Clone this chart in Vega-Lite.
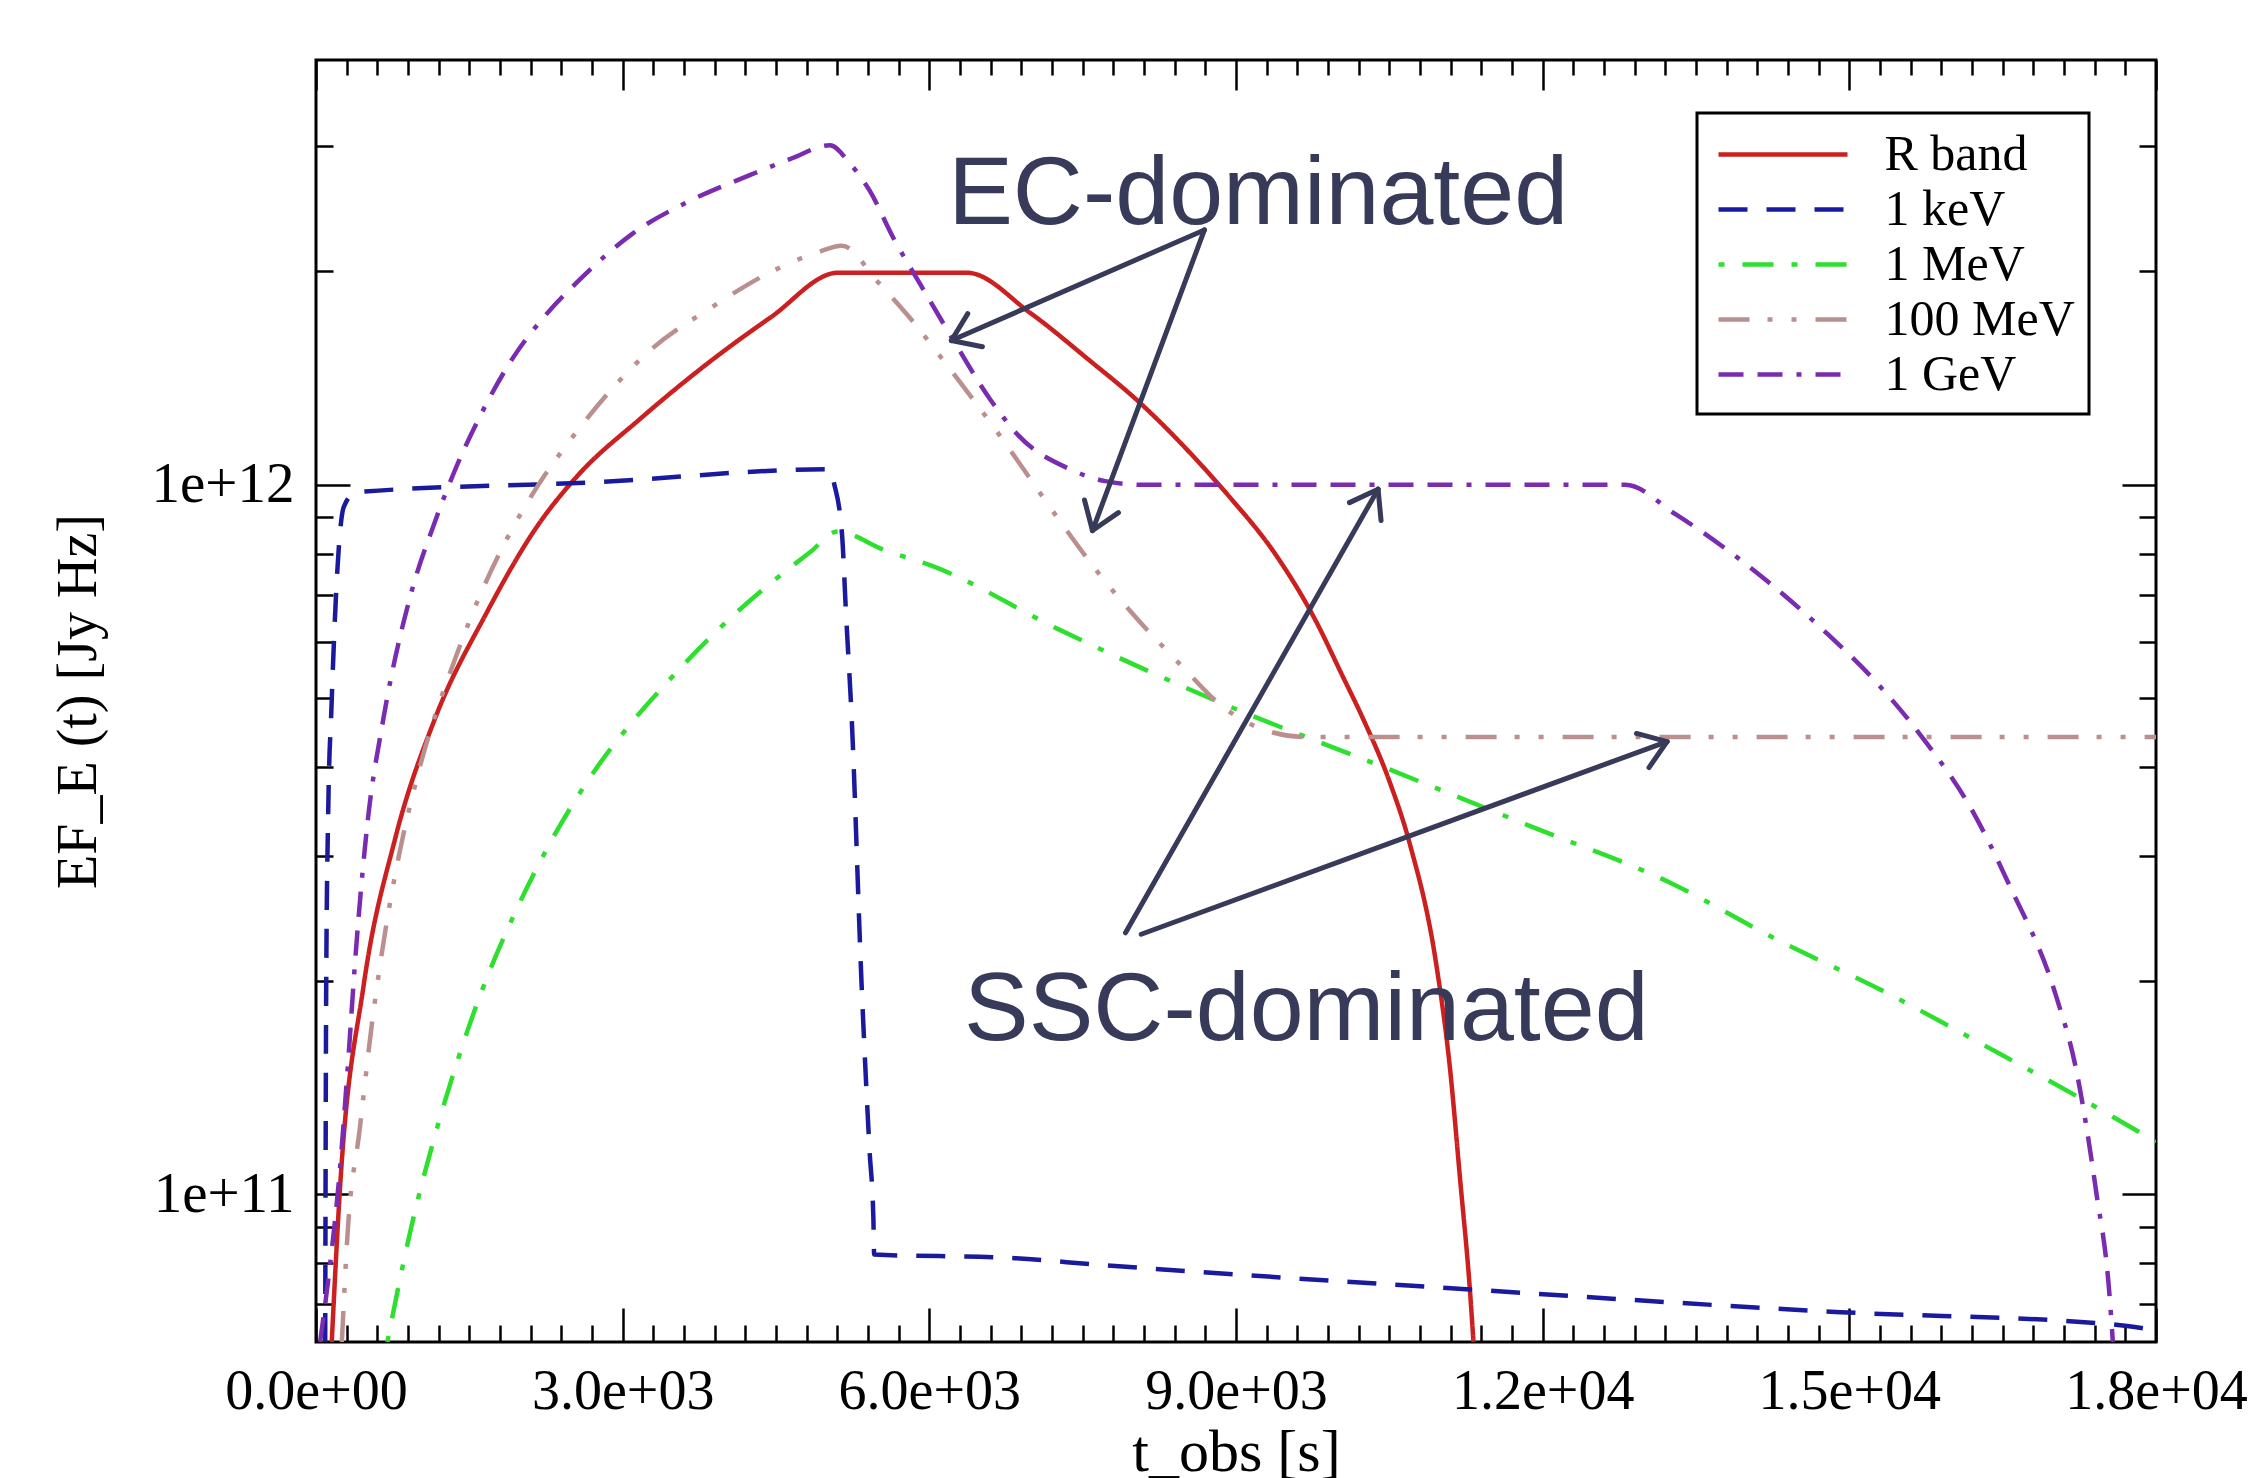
{
  "$schema": "https://vega.github.io/schema/vega-lite/v6.json",
  "width": 1840,
  "height": 1282,
  "autosize": {"type": "none"},
  "padding": {"left": 316, "top": 60, "right": 95, "bottom": 136},
  "background": "white",
  "config": {
    "view": {"stroke": "black", "strokeWidth": 3},
    "axis": {"grid": false, "domain": false, "labelColor": "black", "titleColor": "black", "tickColor": "black"}
  },
  "datasets": {
    "curves": [
      {"band": "R band", "i": 0, "t": 154, "f": 6.19e10},
      {"band": "R band", "i": 1, "t": 233, "f": 1.01e11},
      {"band": "R band", "i": 2, "t": 465, "f": 1.965e11},
      {"band": "R band", "i": 3, "t": 774, "f": 3.17e11},
      {"band": "R band", "i": 4, "t": 1161, "f": 4.67e11},
      {"band": "R band", "i": 5, "t": 1664, "f": 6.58e11},
      {"band": "R band", "i": 6, "t": 2166, "f": 8.75e11},
      {"band": "R band", "i": 7, "t": 2554, "f": 1.028e12},
      {"band": "R band", "i": 8, "t": 3172, "f": 1.239e12},
      {"band": "R band", "i": 9, "t": 3868, "f": 1.497e12},
      {"band": "R band", "i": 10, "t": 4448, "f": 1.722e12},
      {"band": "R band", "i": 11, "t": 5105, "f": 1.99e12},
      {"band": "R band", "i": 12, "t": 6370, "f": 1.99e12},
      {"band": "R band", "i": 13, "t": 6989, "f": 1.746e12},
      {"band": "R band", "i": 14, "t": 7568, "f": 1.497e12},
      {"band": "R band", "i": 15, "t": 8032, "f": 1.316e12},
      {"band": "R band", "i": 16, "t": 8651, "f": 1.07e12},
      {"band": "R band", "i": 17, "t": 8922, "f": 9.67e11},
      {"band": "R band", "i": 18, "t": 9386, "f": 7.98e11},
      {"band": "R band", "i": 19, "t": 9773, "f": 6.46e11},
      {"band": "R band", "i": 20, "t": 10044, "f": 5.37e11},
      {"band": "R band", "i": 21, "t": 10237, "f": 4.70e11},
      {"band": "R band", "i": 22, "t": 10501, "f": 3.82e11},
      {"band": "R band", "i": 23, "t": 10697, "f": 3.13e11},
      {"band": "R band", "i": 24, "t": 10961, "f": 2.10e11},
      {"band": "R band", "i": 25, "t": 11093, "f": 1.506e11},
      {"band": "R band", "i": 26, "t": 11193, "f": 1.047e11},
      {"band": "R band", "i": 27, "t": 11291, "f": 7.24e10},
      {"band": "R band", "i": 28, "t": 11323, "f": 6.19e10},

      {"band": "1 keV", "i": 0, "t": 90, "f": 6.19e10},
      {"band": "1 keV", "i": 1, "t": 100, "f": 2.0e11},
      {"band": "1 keV", "i": 2, "t": 120, "f": 3.5e11},
      {"band": "1 keV", "i": 3, "t": 150, "f": 4.8e11},
      {"band": "1 keV", "i": 4, "t": 233, "f": 8.51e11},
      {"band": "1 keV", "i": 5, "t": 272, "f": 9.31e11},
      {"band": "1 keV", "i": 6, "t": 388, "f": 9.76e11},
      {"band": "1 keV", "i": 7, "t": 2708, "f": 1.008e12},
      {"band": "1 keV", "i": 8, "t": 5028, "f": 1.052e12},
      {"band": "1 keV", "i": 9, "t": 5067, "f": 1.006e12},
      {"band": "1 keV", "i": 10, "t": 5146, "f": 8.51e11},
      {"band": "1 keV", "i": 11, "t": 5185, "f": 6.58e11},
      {"band": "1 keV", "i": 12, "t": 5241, "f": 4.67e11},
      {"band": "1 keV", "i": 13, "t": 5338, "f": 1.965e11},
      {"band": "1 keV", "i": 14, "t": 5415, "f": 1.154e11},
      {"band": "1 keV", "i": 15, "t": 5453, "f": 9.21e10},
      {"band": "1 keV", "i": 16, "t": 5460, "f": 8.22e10},
      {"band": "1 keV", "i": 17, "t": 6739, "f": 8.14e10},
      {"band": "1 keV", "i": 18, "t": 7669, "f": 7.95e10},
      {"band": "1 keV", "i": 19, "t": 11291, "f": 7.34e10},
      {"band": "1 keV", "i": 20, "t": 14912, "f": 6.82e10},
      {"band": "1 keV", "i": 21, "t": 17544, "f": 6.56e10},
      {"band": "1 keV", "i": 22, "t": 18000, "f": 6.43e10},

      {"band": "1 MeV", "i": 0, "t": 698, "f": 6.19e10},
      {"band": "1 MeV", "i": 1, "t": 929, "f": 8.95e10},
      {"band": "1 MeV", "i": 2, "t": 1200, "f": 1.262e11},
      {"band": "1 MeV", "i": 3, "t": 1393, "f": 1.556e11},
      {"band": "1 MeV", "i": 4, "t": 1626, "f": 1.941e11},
      {"band": "1 MeV", "i": 5, "t": 1935, "f": 2.472e11},
      {"band": "1 MeV", "i": 6, "t": 2244, "f": 3.04e11},
      {"band": "1 MeV", "i": 7, "t": 2669, "f": 3.846e11},
      {"band": "1 MeV", "i": 8, "t": 3094, "f": 4.634e11},
      {"band": "1 MeV", "i": 9, "t": 3405, "f": 5.21e11},
      {"band": "1 MeV", "i": 10, "t": 4100, "f": 6.58e11},
      {"band": "1 MeV", "i": 11, "t": 4836, "f": 8.04e11},
      {"band": "1 MeV", "i": 12, "t": 5100, "f": 8.59e11},
      {"band": "1 MeV", "i": 13, "t": 5570, "f": 8.08e11},
      {"band": "1 MeV", "i": 14, "t": 6033, "f": 7.68e11},
      {"band": "1 MeV", "i": 15, "t": 7260, "f": 6.26e11},
      {"band": "1 MeV", "i": 16, "t": 8806, "f": 4.96e11},
      {"band": "1 MeV", "i": 17, "t": 10501, "f": 3.97e11},
      {"band": "1 MeV", "i": 18, "t": 11884, "f": 3.30e11},
      {"band": "1 MeV", "i": 19, "t": 13267, "f": 2.74e11},
      {"band": "1 MeV", "i": 20, "t": 14254, "f": 2.30e11},
      {"band": "1 MeV", "i": 21, "t": 15374, "f": 1.92e11},
      {"band": "1 MeV", "i": 22, "t": 16427, "f": 1.59e11},
      {"band": "1 MeV", "i": 23, "t": 17216, "f": 1.377e11},
      {"band": "1 MeV", "i": 24, "t": 18000, "f": 1.185e11},

      {"band": "100 MeV", "i": 0, "t": 253, "f": 6.19e10},
      {"band": "100 MeV", "i": 1, "t": 310, "f": 8.85e10},
      {"band": "100 MeV", "i": 2, "t": 427, "f": 1.233e11},
      {"band": "100 MeV", "i": 3, "t": 543, "f": 1.72e11},
      {"band": "100 MeV", "i": 4, "t": 678, "f": 2.35e11},
      {"band": "100 MeV", "i": 5, "t": 813, "f": 3.01e11},
      {"band": "100 MeV", "i": 6, "t": 969, "f": 3.77e11},
      {"band": "100 MeV", "i": 7, "t": 1393, "f": 5.85e11},
      {"band": "100 MeV", "i": 8, "t": 1626, "f": 7.10e11},
      {"band": "100 MeV", "i": 9, "t": 1858, "f": 8.34e11},
      {"band": "100 MeV", "i": 10, "t": 2166, "f": 9.95e11},
      {"band": "100 MeV", "i": 11, "t": 2515, "f": 1.17e12},
      {"band": "100 MeV", "i": 12, "t": 3288, "f": 1.556e12},
      {"band": "100 MeV", "i": 13, "t": 3868, "f": 1.778e12},
      {"band": "100 MeV", "i": 14, "t": 4448, "f": 1.995e12},
      {"band": "100 MeV", "i": 15, "t": 4912, "f": 2.128e12},
      {"band": "100 MeV", "i": 16, "t": 5144, "f": 2.173e12},
      {"band": "100 MeV", "i": 17, "t": 5492, "f": 1.935e12},
      {"band": "100 MeV", "i": 18, "t": 5801, "f": 1.725e12},
      {"band": "100 MeV", "i": 19, "t": 6138, "f": 1.497e12},
      {"band": "100 MeV", "i": 20, "t": 6718, "f": 1.158e12},
      {"band": "100 MeV", "i": 21, "t": 7260, "f": 8.96e11},
      {"band": "100 MeV", "i": 22, "t": 7686, "f": 7.41e11},
      {"band": "100 MeV", "i": 23, "t": 7917, "f": 6.76e11},
      {"band": "100 MeV", "i": 24, "t": 8497, "f": 5.50e11},
      {"band": "100 MeV", "i": 25, "t": 8845, "f": 4.90e11},
      {"band": "100 MeV", "i": 26, "t": 9266, "f": 4.52e11},
      {"band": "100 MeV", "i": 27, "t": 9688, "f": 4.41e11},
      {"band": "100 MeV", "i": 28, "t": 18000, "f": 4.41e11},

      {"band": "1 GeV", "i": 0, "t": 40, "f": 6.19e10},
      {"band": "1 GeV", "i": 1, "t": 118, "f": 7.54e10},
      {"band": "1 GeV", "i": 2, "t": 233, "f": 1.08e11},
      {"band": "1 GeV", "i": 3, "t": 310, "f": 1.506e11},
      {"band": "1 GeV", "i": 4, "t": 388, "f": 2.18e11},
      {"band": "1 GeV", "i": 5, "t": 504, "f": 3.34e11},
      {"band": "1 GeV", "i": 6, "t": 658, "f": 4.67e11},
      {"band": "1 GeV", "i": 7, "t": 929, "f": 7.02e11},
      {"band": "1 GeV", "i": 8, "t": 1161, "f": 8.85e11},
      {"band": "1 GeV", "i": 9, "t": 1355, "f": 1.045e12},
      {"band": "1 GeV", "i": 10, "t": 1626, "f": 1.267e12},
      {"band": "1 GeV", "i": 11, "t": 1935, "f": 1.516e12},
      {"band": "1 GeV", "i": 12, "t": 2244, "f": 1.733e12},
      {"band": "1 GeV", "i": 13, "t": 2592, "f": 1.954e12},
      {"band": "1 GeV", "i": 14, "t": 3094, "f": 2.258e12},
      {"band": "1 GeV", "i": 15, "t": 3674, "f": 2.52e12},
      {"band": "1 GeV", "i": 16, "t": 4255, "f": 2.736e12},
      {"band": "1 GeV", "i": 17, "t": 4642, "f": 2.88e12},
      {"band": "1 GeV", "i": 18, "t": 5028, "f": 3.01e12},
      {"band": "1 GeV", "i": 19, "t": 5221, "f": 2.84e12},
      {"band": "1 GeV", "i": 20, "t": 5415, "f": 2.60e12},
      {"band": "1 GeV", "i": 21, "t": 5647, "f": 2.23e12},
      {"band": "1 GeV", "i": 22, "t": 5918, "f": 1.91e12},
      {"band": "1 GeV", "i": 23, "t": 6215, "f": 1.617e12},
      {"band": "1 GeV", "i": 24, "t": 6601, "f": 1.316e12},
      {"band": "1 GeV", "i": 25, "t": 6873, "f": 1.173e12},
      {"band": "1 GeV", "i": 26, "t": 7375, "f": 1.052e12},
      {"band": "1 GeV", "i": 27, "t": 7723, "f": 1.012e12},
      {"band": "1 GeV", "i": 28, "t": 8100, "f": 1.0e12},
      {"band": "1 GeV", "i": 29, "t": 12808, "f": 1.0e12},
      {"band": "1 GeV", "i": 30, "t": 13299, "f": 9.09e11},
      {"band": "1 GeV", "i": 31, "t": 14199, "f": 7.31e11},
      {"band": "1 GeV", "i": 32, "t": 14772, "f": 6.19e11},
      {"band": "1 GeV", "i": 33, "t": 15263, "f": 5.27e11},
      {"band": "1 GeV", "i": 34, "t": 15711, "f": 4.41e11},
      {"band": "1 GeV", "i": 35, "t": 16204, "f": 3.47e11},
      {"band": "1 GeV", "i": 36, "t": 16559, "f": 2.74e11},
      {"band": "1 GeV", "i": 37, "t": 17019, "f": 1.91e11},
      {"band": "1 GeV", "i": 38, "t": 17216, "f": 1.506e11},
      {"band": "1 GeV", "i": 39, "t": 17414, "f": 1.01e11},
      {"band": "1 GeV", "i": 40, "t": 17544, "f": 7.24e10},
      {"band": "1 GeV", "i": 41, "t": 17578, "f": 6.19e10}
    ],
    "notes": [
      {"label": "EC-dominated", "t": 9217, "f": 2.33e12},
      {"label": "SSC-dominated", "t": 9688, "f": 1.65e11}
    ],
    "shafts": [
      {"t": 8691, "f": 2.287e12, "t2": 6216, "f2": 1.597e12},
      {"t": 8691, "f": 2.287e12, "t2": 7596, "f2": 8.62e11},
      {"t": 7919, "f": 2.336e11, "t2": 10390, "f2": 9.86e11},
      {"t": 8073, "f": 2.325e11, "t2": 13217, "f2": 4.346e11}
    ],
    "heads": [
      {"wing": "a", "t": 6216, "f": 1.597e12, "t2": 6519, "f2": 1.565e12},
      {"wing": "b", "t": 6216, "f": 1.597e12, "t2": 6376, "f2": 1.743e12},
      {"wing": "a", "t": 7596, "f": 8.62e11, "t2": 7850, "f2": 9.135e11},
      {"wing": "b", "t": 7596, "f": 8.62e11, "t2": 7518, "f2": 9.518e11},
      {"wing": "a", "t": 10390, "f": 9.86e11, "t2": 10110, "f2": 9.438e11},
      {"wing": "b", "t": 10390, "f": 9.86e11, "t2": 10419, "f2": 8.905e11},
      {"wing": "a", "t": 13217, "f": 4.346e11, "t2": 12918, "f2": 4.462e11},
      {"wing": "b", "t": 13217, "f": 4.346e11, "t2": 13040, "f2": 3.994e11}
    ]
  },
  "resolve": {"axis": {"x": "independent", "y": "independent"}},
  "layer": [
    {
      "data": {"name": "curves"},
      "mark": {"type": "line", "strokeWidth": 4.5, "clip": true, "interpolate": "monotone"},
      "encoding": {
        "x": {
          "field": "t", "type": "quantitative",
          "scale": {"domain": [0, 18000], "nice": false, "zero": false},
          "axis": {
            "orient": "bottom", "values": [0, 3000, 6000, 9000, 12000, 15000, 18000],
            "labelExpr": "datum.value == 0 ? '0.0e+00' : datum.value < 10000 ? format(datum.value / 1000, '.1f') + 'e+03' : format(datum.value / 10000, '.1f') + 'e+04'",
            "ticks": false, "labelFont": "Liberation Serif", "labelFontSize": 56, "labelPadding": 22, "labelLimit": 0,
            "labelFlush": false, "labelOverlap": false, "labelBound": false,
            "title": "t_obs [s]", "titleFont": "Liberation Serif", "titleFontSize": 60, "titleFontWeight": "normal", "titlePadding": 4
          }
        },
        "y": {
          "field": "f", "type": "quantitative",
          "scale": {"type": "log", "domain": [6.19e10, 3.97e12], "nice": false},
          "axis": {
            "orient": "left", "values": [1e11, 1e12],
            "labelExpr": "datum.value < 5e11 ? '1e+11' : '1e+12'",
            "ticks": false, "labelFont": "Liberation Serif", "labelFontSize": 57, "labelPadding": 22, "labelLimit": 0,
            "labelOverlap": false, "labelFlush": false,
            "title": "EF_E (t) [Jy Hz]", "titleFont": "Liberation Serif", "titleFontSize": 56, "titleFontWeight": "normal", "titlePadding": 44
          }
        },
        "color": {
          "field": "band", "type": "nominal",
          "scale": {"domain": ["R band", "1 keV", "1 MeV", "100 MeV", "1 GeV"], "range": ["#cc1f1f", "#1a1a9e", "#2ee02e", "#bc8f8f", "#7a2bb0"]},
          "legend": {
            "orient": "none", "legendX": 1381, "legendY": 53, "title": null,
            "symbolType": "M-2.58,0H2.58", "symbolSize": 2500, "symbolStrokeWidth": 4.5, "symbolOffset": 44.5,
            "labelFont": "Liberation Serif", "labelFontSize": 50, "labelColor": "black", "labelOffset": 74, "labelLimit": 0,
            "padding": 14, "rowPadding": 2, "strokeColor": "black", "fillColor": "white",
            "encode": {"legend": {"update": {"strokeWidth": {"value": 3}}}}
          }
        },
        "strokeDash": {
          "field": "band", "type": "nominal",
          "scale": {"domain": ["R band", "1 keV", "1 MeV", "100 MeV", "1 GeV"], "range": [[1, 0], [29, 19], [6, 18, 31, 18], [31, 18, 5, 19, 5, 19], [25, 14, 25, 14, 5, 14]]},
          "legend": {
            "orient": "none", "legendX": 1381, "legendY": 53, "title": null,
            "symbolType": "M-2.58,0H2.58", "symbolSize": 2500, "symbolStrokeWidth": 4.5, "symbolOffset": 44.5,
            "labelFont": "Liberation Serif", "labelFontSize": 50, "labelColor": "black", "labelOffset": 74, "labelLimit": 0,
            "padding": 14, "rowPadding": 2, "strokeColor": "black", "fillColor": "white",
            "encode": {"legend": {"update": {"strokeWidth": {"value": 3}}}}
          }
        },
        "order": {"field": "i", "type": "quantitative"}
      }
    },
    {
      "data": {"name": "notes"},
      "mark": {"type": "text", "font": "Liberation Sans", "fontSize": 97, "color": "#373a58", "align": "center", "baseline": "alphabetic"},
      "encoding": {
        "x": {"field": "t", "type": "quantitative", "axis": {"orient": "bottom", "values": [0, 3000, 6000, 9000, 12000, 15000, 18000], "labels": false, "ticks": true, "tickSize": -34, "tickWidth": 2.5, "title": null}},
        "y": {"field": "f", "type": "quantitative", "axis": {"orient": "left", "values": [1e11, 1e12], "labels": false, "ticks": true, "tickSize": -34, "tickWidth": 2.5, "title": null}},
        "text": {"field": "label", "type": "nominal"}
      }
    },
    {
      "data": {"name": "shafts"},
      "mark": {"type": "rule", "strokeWidth": 5, "color": "#373a58", "strokeCap": "round"},
      "encoding": {
        "x": {"field": "t", "type": "quantitative", "axis": {"orient": "top", "values": [0, 3000, 6000, 9000, 12000, 15000, 18000], "labels": false, "ticks": true, "tickSize": -30, "tickWidth": 2.5, "title": null}},
        "y": {"field": "f", "type": "quantitative", "axis": {"orient": "right", "values": [1e11, 1e12], "labels": false, "ticks": true, "tickSize": -34, "tickWidth": 2.5, "title": null}},
        "x2": {"field": "t2"},
        "y2": {"field": "f2"}
      }
    },
    {
      "data": {"name": "heads"},
      "transform": [{"filter": "datum.wing == 'a'"}],
      "mark": {"type": "rule", "strokeWidth": 5, "color": "#373a58", "strokeCap": "round"},
      "encoding": {
        "x": {"field": "t", "type": "quantitative", "axis": {"orient": "bottom", "values": [300, 600, 900, 1200, 1500, 1800, 2100, 2400, 2700, 3300, 3600, 3900, 4200, 4500, 4800, 5100, 5400, 5700, 6300, 6600, 6900, 7200, 7500, 7800, 8100, 8400, 8700, 9300, 9600, 9900, 10200, 10500, 10800, 11100, 11400, 11700, 12300, 12600, 12900, 13200, 13500, 13800, 14100, 14400, 14700, 15300, 15600, 15900, 16200, 16500, 16800, 17100, 17400, 17700], "labels": false, "ticks": true, "tickSize": -17, "tickWidth": 2.5, "title": null}},
        "y": {"field": "f", "type": "quantitative", "axis": {"orient": "left", "values": [7e10, 8e10, 9e10, 2e11, 3e11, 4e11, 5e11, 6e11, 7e11, 8e11, 9e11, 2e12, 3e12], "labels": false, "ticks": true, "tickSize": -17, "tickWidth": 2.5, "title": null}},
        "x2": {"field": "t2"},
        "y2": {"field": "f2"}
      }
    },
    {
      "data": {"name": "heads"},
      "transform": [{"filter": "datum.wing == 'b'"}],
      "mark": {"type": "rule", "strokeWidth": 5, "color": "#373a58", "strokeCap": "round"},
      "encoding": {
        "x": {"field": "t", "type": "quantitative", "axis": {"orient": "top", "values": [300, 600, 900, 1200, 1500, 1800, 2100, 2400, 2700, 3300, 3600, 3900, 4200, 4500, 4800, 5100, 5400, 5700, 6300, 6600, 6900, 7200, 7500, 7800, 8100, 8400, 8700, 9300, 9600, 9900, 10200, 10500, 10800, 11100, 11400, 11700, 12300, 12600, 12900, 13200, 13500, 13800, 14100, 14400, 14700, 15300, 15600, 15900, 16200, 16500, 16800, 17100, 17400, 17700], "labels": false, "ticks": true, "tickSize": -15, "tickWidth": 2.5, "title": null}},
        "y": {"field": "f", "type": "quantitative", "axis": {"orient": "right", "values": [7e10, 8e10, 9e10, 2e11, 3e11, 4e11, 5e11, 6e11, 7e11, 8e11, 9e11, 2e12, 3e12], "labels": false, "ticks": true, "tickSize": -17, "tickWidth": 2.5, "title": null}},
        "x2": {"field": "t2"},
        "y2": {"field": "f2"}
      }
    }
  ]
}
